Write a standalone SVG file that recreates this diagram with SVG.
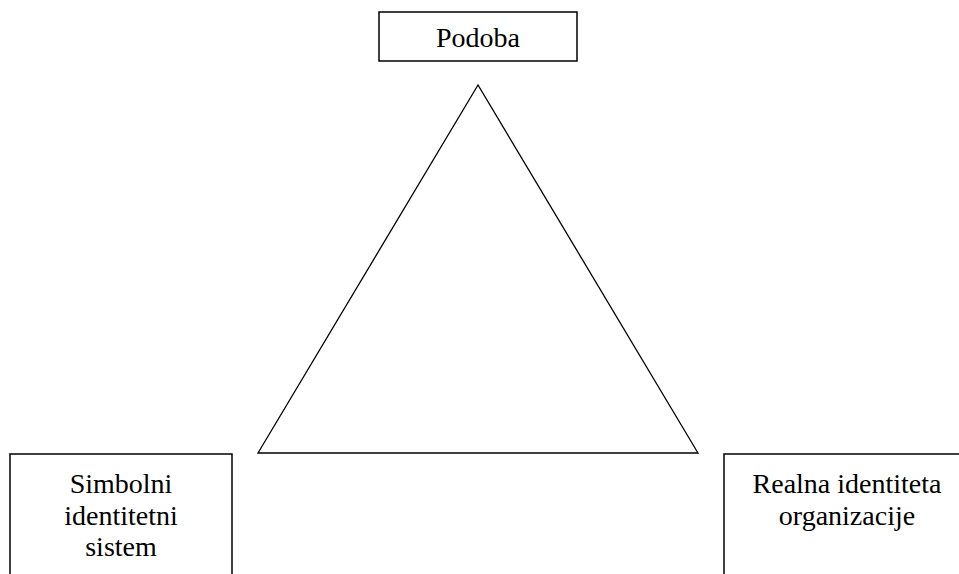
<svg xmlns="http://www.w3.org/2000/svg" width="959" height="574" viewBox="0 0 959 574">
<style>
.box{fill:#fff;stroke:#000;stroke-width:1.5}
.t{font-family:"Liberation Serif","Times New Roman",serif;font-size:28px;fill:#000;text-anchor:middle}
.c{fill:none;stroke:#000;stroke-width:1.3}
</style>
<rect width="959" height="574" fill="#fff"/>
<g id="connectors">
<polygon class="c" points="478,85 258,453 698,453"/>
</g>
<g id="podoba">
<rect class="box" x="379" y="12" width="198" height="49"/>
<text class="t" x="478" y="47">Podoba</text>
</g>
<g id="simbolni">
<rect class="box" x="10" y="454" width="222" height="140"/>
<text class="t" x="121" y="493">Simbolni</text>
<text class="t" x="121" y="525">identitetni</text>
<text class="t" x="121" y="556">sistem</text>
</g>
<g id="realna">
<rect class="box" x="724" y="454" width="260" height="140"/>
<text class="t" x="847" y="493">Realna identiteta</text>
<text class="t" x="847" y="525">organizacije</text>
</g>
</svg>
